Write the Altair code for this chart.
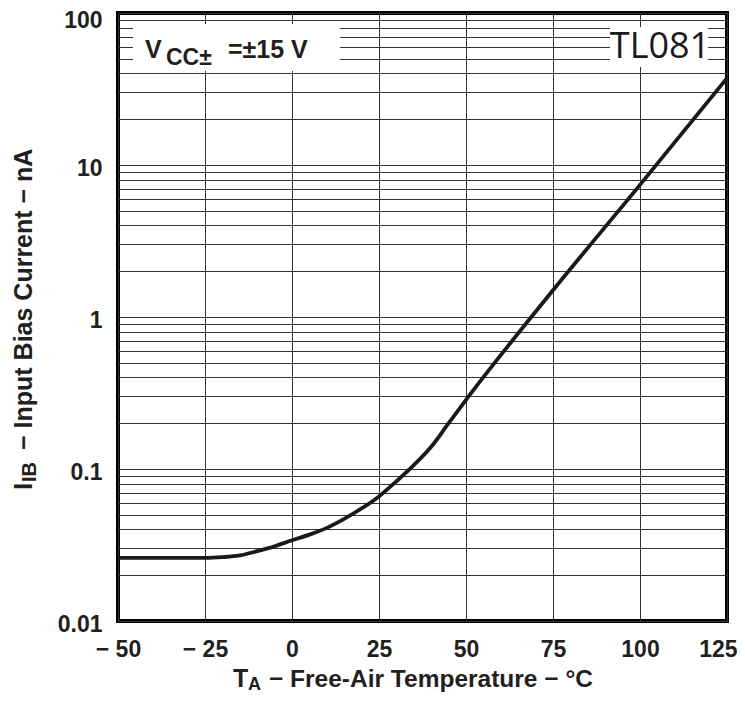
import altair as alt
import pandas as pd

# ---- data ----
temps_c = [-50, -25, -20, -15, -10, -5, 0, 5, 10, 15, 20, 25, 30, 35, 40, 45, 50, 75, 100, 125]
ib_na = [0.026, 0.026, 0.0263, 0.027, 0.0288, 0.031, 0.034, 0.037, 0.041, 0.047, 0.055, 0.066,
         0.083, 0.106, 0.14, 0.2, 0.285, 1.5, 7.4, 37.3]

x_ticks = [-50, -25, 0, 25, 50, 75, 100, 125]
x_tick_labels = ["\u2212 50", "\u2212 25", "0", "25", "50", "75", "100", "125"]

y_major = [0.01, 0.1, 1, 10, 100]
y_major_labels = ["0.01", "0.1", "1", "10", "100"]
y_grid = [0.01, 0.02, 0.03, 0.04, 0.05, 0.06, 0.07, 0.08, 0.09,
          0.1, 0.2, 0.3, 0.4, 0.5, 0.6, 0.7, 0.8, 0.9,
          1, 2, 3, 4, 5, 6, 7, 8, 9,
          10, 20, 30, 40, 50, 60, 70, 80, 90, 100]

x_title_main = "T"
x_title_sub = "A"
x_title_rest = "\u2212 Free-Air Temperature \u2212 \u00b0C"
y_title_main = "I"
y_title_sub = "IB"
y_title_rest = " \u2212 Input Bias Current \u2212 nA"
cond_main = "V"
cond_sub = "CC\u00b1"
cond_rest = "=\u00b115 V"
part_name = "TL081"

TXT = "#231f20"
FONT = "Liberation Sans"

df = pd.DataFrame({"T": temps_c, "I": ib_na})

x_expr = " : ".join(f"datum.value == {v} ? '{l}'" for v, l in zip(x_ticks, x_tick_labels)) + " : ''"
y_expr = " : ".join(f"datum.value == {v} ? '{l}'" for v, l in zip(y_major, y_major_labels)) + " : ''"

last_x = x_ticks[-1]
top_y = y_major[-1]

line = alt.Chart(df).mark_line(color="#1a1a1a", strokeWidth=3.8, interpolate="monotone").encode(
    x=alt.X("T:Q", scale=alt.Scale(domain=[-50, 125], nice=False, zero=False),
            axis=alt.Axis(values=x_ticks, labelExpr=x_expr, title=None, domain=False, ticks=False,
                          tickSize=0, grid=True, gridColor="#333333", gridWidth=1, gridOpacity=1,
                          labelFont=FONT, labelFontWeight="bold", labelFontSize=23, labelColor=TXT,
                          labelPadding=17, labelFlush=False, labelOverlap=False,
                          labelAlign={"condition": {"test": f"datum.value == {last_x}", "value": "right"},
                                      "value": "center"},
                          labelOffset={"condition": {"test": f"datum.value == {last_x}", "value": 10},
                                       "value": 0})),
    y=alt.Y("I:Q", scale=alt.Scale(type="log", domain=[0.01, 100], nice=False),
            axis=alt.Axis(values=y_grid, labelExpr=y_expr, title=None, domain=False, ticks=False,
                          tickSize=0, grid=True, gridColor="#333333", gridWidth=1, gridOpacity=1,
                          labelFont=FONT, labelFontWeight="bold", labelFontSize=23, labelColor=TXT,
                          labelPadding=16, labelFlush=False, labelOverlap=False,
                          labelOffset={"condition": {"test": f"datum.value == {top_y}", "value": 7},
                                       "value": 3})),
)

one = pd.DataFrame({"a": [0]})


def box(x1, x2, y1, y2):
    return alt.Chart(one).mark_rect(fill="white", stroke=None).encode(
        x=alt.value(x1), x2=alt.value(x2), y=alt.value(y1), y2=alt.value(y2))


def txt(s, x, y, size, weight="bold", font=FONT, angle=0, align="left", color=TXT):
    return alt.Chart(one).mark_text(text=s, font=font, fontSize=size, fontWeight=weight,
                                    angle=angle, align=align, baseline="alphabetic",
                                    color=color).encode(x=alt.value(x), y=alt.value(y))


layers = [
    line,
    box(15, 222, 11, 58),
    box(492, 590, 14, 54),
    txt(cond_main, 27, 45, 25),
    txt(cond_sub, 48, 52, 23),
    txt(cond_rest, 110, 45, 25),
    txt(part_name, 542, 45, 36, weight="normal", font="Open Sans", align="center", color="#1a1a1a"),
    txt(x_title_main, 115, 674, 25),
    txt(x_title_sub, 130, 677, 18),
    txt(x_title_rest, 151, 674, 24.5),
    txt(y_title_main, -86, 477, 26, angle=270),
    txt(y_title_sub, -82, 469, 20, angle=270),
    txt(y_title_rest, -86, 437, 25, angle=270),
]

chart = alt.layer(*layers).properties(
    width=609, height=608,
    padding={"left": 110, "top": 5, "right": 10, "bottom": 73},
    autosize=alt.AutoSizeParams(type="none"),
).configure_view(stroke="black", strokeWidth=4)

chart.save("out.html", embed_options={"renderer": "svg", "actions": False})
